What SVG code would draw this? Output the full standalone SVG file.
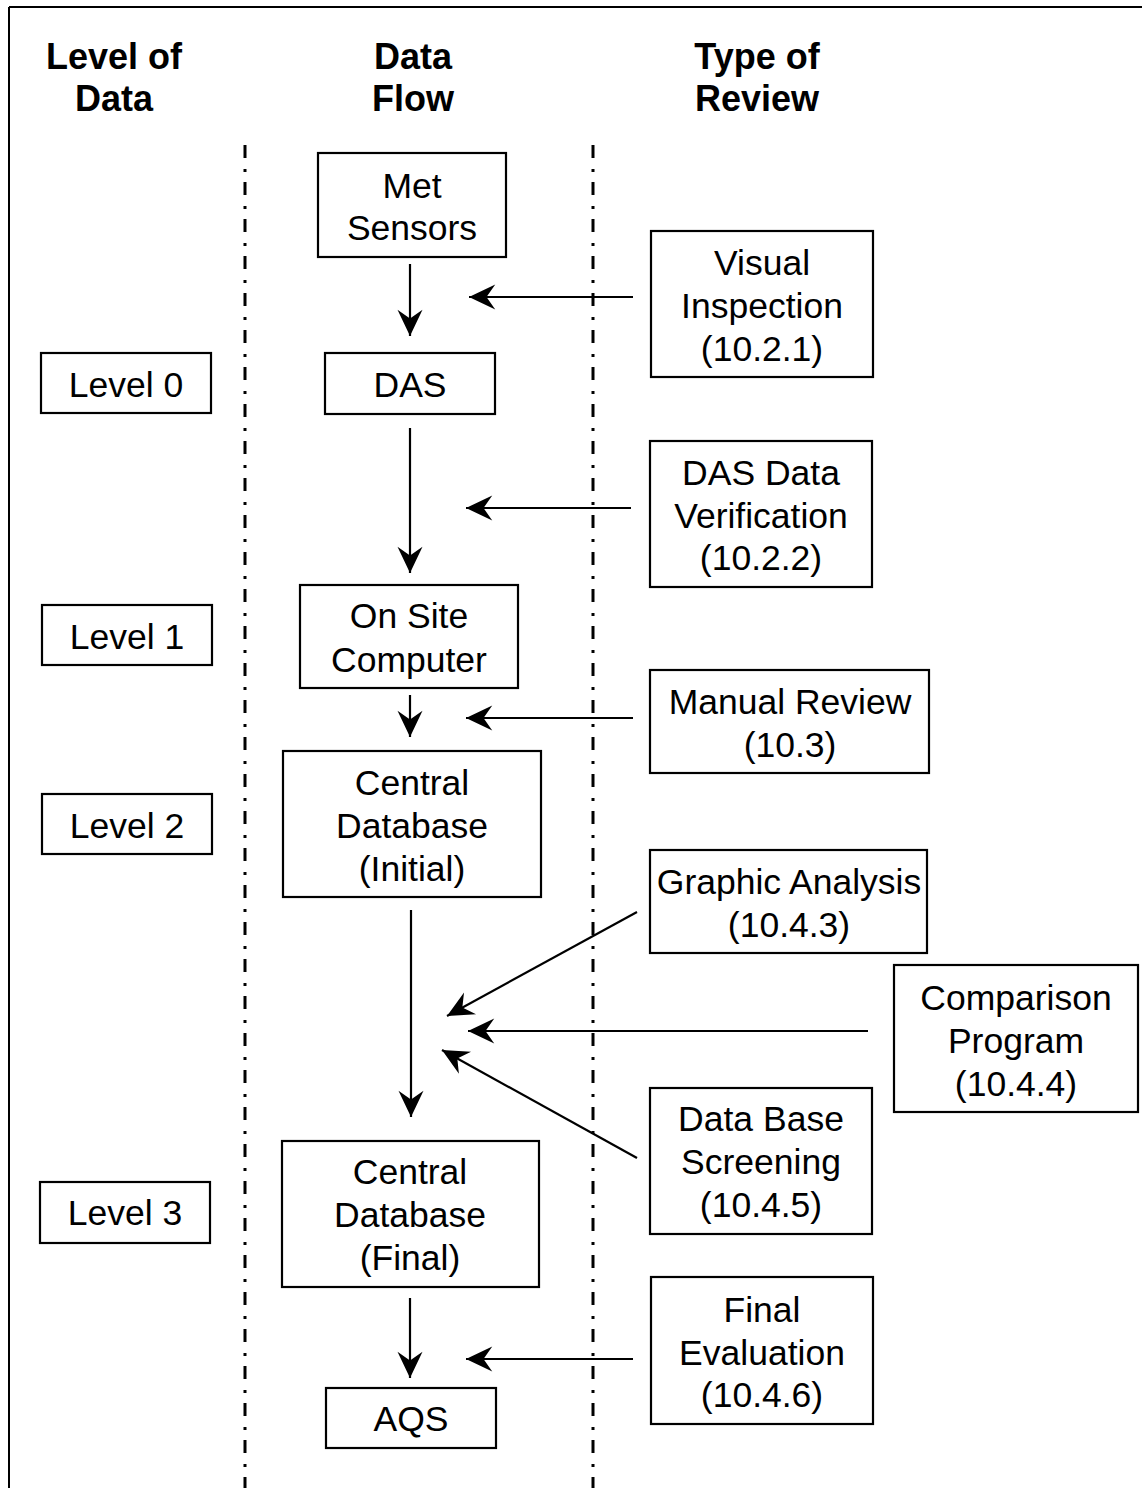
<svg xmlns="http://www.w3.org/2000/svg" width="1142" height="1488" viewBox="0 0 1142 1488">
<defs>
<style>
.box{fill:#fff;stroke:#000;stroke-width:2.2}
.t{font-family:"Liberation Sans",Arial,sans-serif;font-size:35.5px;text-anchor:middle;fill:#000}
.h{font-family:"Liberation Sans",Arial,sans-serif;font-size:36px;font-weight:bold;text-anchor:middle;fill:#000}
.sep{stroke:#000;stroke-width:3;stroke-dasharray:13 11 3 10;fill:none}
.c{stroke:#000;stroke-width:2.2;fill:none;marker-end:url(#ah)}
</style>
<marker id="ah" markerUnits="userSpaceOnUse" markerWidth="30" markerHeight="30" viewBox="-22 -11 24 22" refX="0" refY="0" orient="auto">
<path d="M0,0 L-21,-10 L-14,0 L-21,10 Z" fill="#000"/>
</marker>
</defs>
<rect width="1142" height="1488" fill="#fff"/>
<g id="frame">
<line x1="9" y1="7" x2="1142" y2="7" stroke="#000" stroke-width="2"/>
<line x1="9" y1="7" x2="9" y2="1488" stroke="#000" stroke-width="2"/>
</g>
<g id="separators">
<line class="sep" x1="245" y1="145" x2="245" y2="1488"/>
<line class="sep" x1="593" y1="145" x2="593" y2="1488"/>
</g>
<g id="headings">
<text class="h" x="114" y="69">Level of</text>
<text class="h" x="114" y="111">Data</text>
<text class="h" x="413" y="69">Data</text>
<text class="h" x="413" y="111">Flow</text>
<text class="h" x="757" y="69">Type of</text>
<text class="h" x="757" y="111">Review</text>
</g>
<g id="connectors">
<line class="c" x1="410" y1="264" x2="410" y2="336"/>
<line class="c" x1="633" y1="297" x2="469" y2="297"/>
<line class="c" x1="410" y1="428" x2="410" y2="573"/>
<line class="c" x1="631" y1="508" x2="466" y2="508"/>
<line class="c" x1="410" y1="695" x2="410" y2="737"/>
<line class="c" x1="633" y1="718" x2="466" y2="718"/>
<line class="c" x1="411" y1="910" x2="411" y2="1117"/>
<line class="c" x1="637" y1="912" x2="447" y2="1016"/>
<line class="c" x1="868" y1="1031" x2="468" y2="1031"/>
<line class="c" x1="637" y1="1158" x2="442" y2="1050"/>
<line class="c" x1="410" y1="1298" x2="410" y2="1378"/>
<line class="c" x1="633" y1="1359" x2="466" y2="1359"/>
</g>
<g id="met-sensors">
<rect class="box" x="318" y="153" width="188" height="104"/>
<text class="t" x="412" y="198">Met</text>
<text class="t" x="412" y="240">Sensors</text>
</g>
<g id="das">
<rect class="box" x="325" y="353" width="170" height="61"/>
<text class="t" x="410" y="397">DAS</text>
</g>
<g id="on-site-computer">
<rect class="box" x="300" y="585" width="218" height="103"/>
<text class="t" x="409" y="628">On Site</text>
<text class="t" x="409" y="672">Computer</text>
</g>
<g id="central-initial">
<rect class="box" x="283" y="751" width="258" height="146"/>
<text class="t" x="412" y="795">Central</text>
<text class="t" x="412" y="838">Database</text>
<text class="t" x="412" y="881">(Initial)</text>
</g>
<g id="central-final">
<rect class="box" x="282" y="1141" width="257" height="146"/>
<text class="t" x="410" y="1184">Central</text>
<text class="t" x="410" y="1227">Database</text>
<text class="t" x="410" y="1270">(Final)</text>
</g>
<g id="aqs">
<rect class="box" x="326" y="1388" width="170" height="60"/>
<text class="t" x="411" y="1431">AQS</text>
</g>
<g id="level0">
<rect class="box" x="41" y="353" width="170" height="60"/>
<text class="t" x="126" y="397">Level 0</text>
</g>
<g id="level1">
<rect class="box" x="42" y="605" width="170" height="60"/>
<text class="t" x="127" y="649">Level 1</text>
</g>
<g id="level2">
<rect class="box" x="42" y="794" width="170" height="60"/>
<text class="t" x="127" y="838">Level 2</text>
</g>
<g id="level3">
<rect class="box" x="40" y="1182" width="170" height="61"/>
<text class="t" x="125" y="1225">Level 3</text>
</g>
<g id="visual-inspection">
<rect class="box" x="651" y="231" width="222" height="146"/>
<text class="t" x="762" y="275">Visual</text>
<text class="t" x="762" y="318">Inspection</text>
<text class="t" x="762" y="361">(10.2.1)</text>
</g>
<g id="das-data-verification">
<rect class="box" x="650" y="441" width="222" height="146"/>
<text class="t" x="761" y="485">DAS Data</text>
<text class="t" x="761" y="528">Verification</text>
<text class="t" x="761" y="570">(10.2.2)</text>
</g>
<g id="manual-review">
<rect class="box" x="650" y="670" width="279" height="103"/>
<text class="t" x="790" y="714">Manual Review</text>
<text class="t" x="790" y="757">(10.3)</text>
</g>
<g id="graphic-analysis">
<rect class="box" x="650" y="850" width="277" height="103"/>
<text class="t" x="789" y="894">Graphic Analysis</text>
<text class="t" x="789" y="937">(10.4.3)</text>
</g>
<g id="comparison-program">
<rect class="box" x="894" y="965" width="244" height="147"/>
<text class="t" x="1016" y="1010">Comparison</text>
<text class="t" x="1016" y="1053">Program</text>
<text class="t" x="1016" y="1096">(10.4.4)</text>
</g>
<g id="data-base-screening">
<rect class="box" x="650" y="1088" width="222" height="146"/>
<text class="t" x="761" y="1131">Data Base</text>
<text class="t" x="761" y="1174">Screening</text>
<text class="t" x="761" y="1217">(10.4.5)</text>
</g>
<g id="final-evaluation">
<rect class="box" x="651" y="1277" width="222" height="147"/>
<text class="t" x="762" y="1322">Final</text>
<text class="t" x="762" y="1365">Evaluation</text>
<text class="t" x="762" y="1407">(10.4.6)</text>
</g>
</svg>
